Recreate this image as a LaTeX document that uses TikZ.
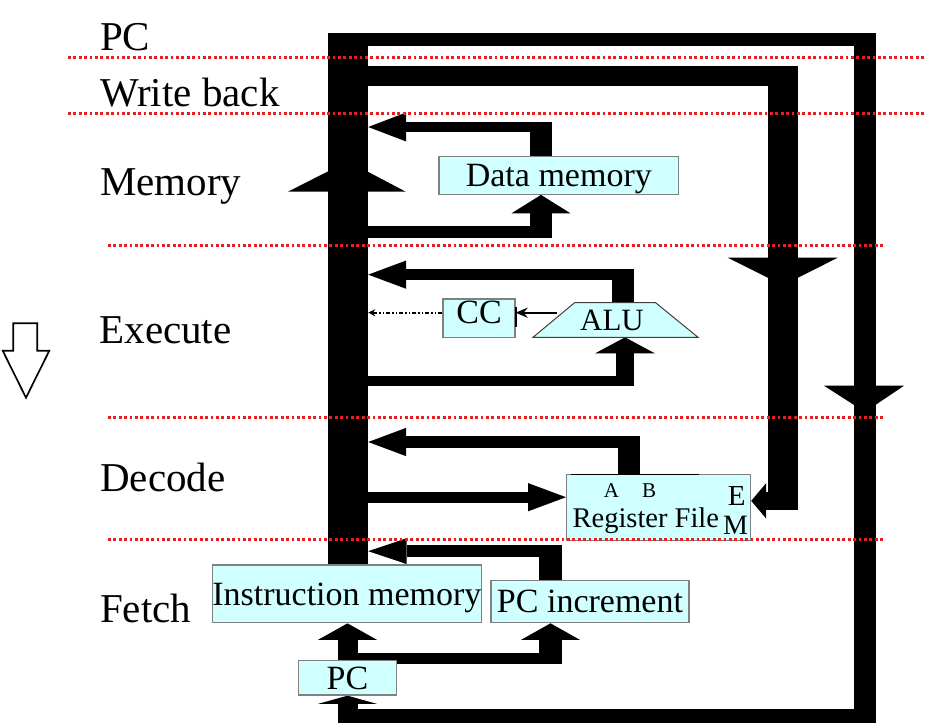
\documentclass[tikz,border=0pt]{standalone}
\usepackage{fontspec}
\setmainfont{Liberation Serif}
\usetikzlibrary{arrows.meta,backgrounds}

\definecolor{boxcyan}{RGB}{208,255,255}
\definecolor{boxedge}{RGB}{128,128,128}
\definecolor{sepred}{RGB}{235,30,30}

\tikzset{
  stage/.style={anchor=base west, inner sep=0pt, font=\fontsize{41}{41}\selectfont},
  unit/.style={draw=boxedge, line width=1.2pt, fill=boxcyan, inner sep=0pt,
    text height=22.5pt, text depth=0pt, font=\fontsize{34}{34}\selectfont},
  smalltag/.style={inner sep=0pt, font=\fontsize{#1}{#1}\selectfont},
  sepline/.style={sepred, line width=2.7pt, dash pattern=on 2.7pt off 2.7pt},
  busbar/.style={line width=#1, line cap=butt, line join=miter},
  bighead/.style 2 args={-{Triangle[length=#1,width=#2,line width=0pt]}},
}

\begin{document}
\begin{tikzpicture}[x=1pt,y=-1pt]
\useasboundingbox (0,0) rectangle (926,724);
\node[stage] (lpc) at (100,50) {PC};
\node[stage] (lwb) at (100,106) {Write back};
\node[stage] (lmem) at (100,195) {Memory};
\node[stage] (lex) at (99.3,343.3) {Execute};
\node[stage] (ldec) at (100,491.7) {Decode};
\node[stage] (lfet) at (100,622.7) {Fetch};
\draw[line width=1.7pt, line join=miter] (13.3,323.3) -- (37.3,323.3) -- (37.3,350.7) -- (49.3,350.7)
  -- (26,397.7) -- (2.7,350.7) -- (13.3,350.7) -- cycle;

\node[fill=black, inner sep=0pt, minimum width=40pt, minimum height=531.7pt] (bus) at (348,299.15) {};
\fill (288,191.7) -- (405.7,191.7) -- (348,161.2) -- cycle;

\node[unit, minimum width=239.6pt, minimum height=37.6pt] (dmem) at (558.8,175.5) {Data memory};
\node[unit, minimum width=72pt, minimum height=38.3pt, text depth=12pt] (cc) at (479,318.2) {CC};
\filldraw[fill=boxcyan, draw=black!75, line width=1pt] (533,337.3) -- (574.6,302.7) -- (655.6,302.7) -- (698,337.3) -- cycle;
\node[smalltag=31] (alu) at (612,320.8) {ALU};
\node[unit, minimum width=184pt, minimum height=66pt] (rf) at (658.6,507.4) {};
\draw[line width=1.3pt] (570.6,474.3) -- (699,474.3);
\node[smalltag=21] (rfa) at (611.5,490.3) {A};
\node[smalltag=21] (rfb) at (649,490.3) {B};
\node[smalltag=29] (rfe) at (736.7,496.3) {E};
\node[smalltag=28] (rfm) at (735.6,525.8) {M};
\node[smalltag=28.5, text height=18.9pt, text depth=0pt] (rfname) at (645.8,518.4) {Register File};
\node[unit, minimum width=268.3pt, minimum height=57.7pt] (imem) at (346.9,593.9) {Instruction memory};
\node[unit, minimum width=198pt, minimum height=42pt] (pcinc) at (590,601.7) {PC increment};
\node[unit, minimum width=98.4pt, minimum height=34.3pt] (pc) at (347.5,677.9) {PC};

\begin{scope}[on background layer]
\draw[busbar=12.7pt] (bus.center |- 0,39.65) -- (876,39.65);
\draw[busbar=22pt] (865,33.3) -- (865,722.7);
\draw[busbar=13.4pt] (876,716) -- (338.3,716);
\draw[busbar=20pt, bighead={8.3pt}{59.4pt}] (pc.south |- 0,722.7) -- (pc.south);
\draw[busbar=20.3pt] (bus.center |- 0,75.85) -- (798.3,75.85);
\draw[busbar=30.6pt] (783,65.7) -- (783,510);
\draw[busbar=18.3pt, bighead={15pt}{35.6pt}] (798.3,500.85) -- (rf.east |- 0,500.85);
\draw[busbar=22pt] (dmem.north -| 541,0) -- (541,121.7);
\draw[busbar=10.6pt, bighead={38pt}{29pt}] (552,127) -- (bus.east |- 0,127);
\draw[busbar=12.3pt] (bus.center |- 0,232.15) -- (552,232.15);
\draw[busbar=22pt, bighead={18.4pt}{59pt}] (541,238.3) -- (dmem.south -| 541,0);
\draw[busbar=22pt] (623,302.7) -- (623,269.3);
\draw[busbar=10.7pt, bighead={38pt}{28.3pt}] (634,274.65) -- (bus.east |- 0,274.65);
\draw[busbar=10.3pt] (bus.center |- 0,380.85) -- (634,380.85);
\draw[busbar=18pt, bighead={16pt}{59.6pt}] (625,386) -- (625,337.3);
\draw[busbar=22pt] (rf.north -| 629,0) -- (629,435.7);
\draw[busbar=12.6pt, bighead={38pt}{28.4pt}] (640,442) -- (bus.east |- 0,442);
\draw[busbar=11pt, bighead={38pt}{28.3pt}] (bus.center |- 0,497.2) -- (rf.west |- 0,497.2);
\draw[busbar=22.4pt] (pcinc.north -| 550.5,0) -- (550.5,545);
\draw[busbar=12.3pt, bighead={38.3pt}{25.7pt}] (561.7,551.15) -- (bus.east |- 0,551.15);
\draw[busbar=20pt, bighead={16.6pt}{59.4pt}] (pc.north) -- (imem.south -| pc.north);
\draw[busbar=10.7pt] (pc.center |- 0,658.65) -- (561.7,658.65);
\draw[busbar=22.4pt, bighead={16.6pt}{59pt}] (550.5,664) -- (pcinc.south -| 550.5,0);
\end{scope}

\fill (727.7,257.7) -- (837.7,257.7) -- (783,285.3) -- cycle;
\fill (824,385.7) -- (904,385.7) -- (865,412) -- cycle;
\draw[line width=2pt, -{Stealth[length=12pt,width=10pt]}] (557,312.7) -- (cc.east |- 0,312.7);
\draw[line width=1.8pt] (cc.east |- 0,307) -- (cc.east |- 0,327);
\draw[line width=1.7pt, dash pattern=on 4pt off 2pt on 1.5pt off 2pt on 1.5pt off 2pt,
  -{Stealth[length=7pt,width=7pt]}] (cc.west |- 0,312.7) -- (bus.east |- 0,312.7);

\draw[sepline] (68,57.5) -- (926,57.5);
\draw[sepline] (68,113.3) -- (926,113.3);
\foreach \y in {245.7,417.5,539.5}
  \draw[sepline] (108,\y) -- (885,\y);
\end{tikzpicture}
\end{document}
